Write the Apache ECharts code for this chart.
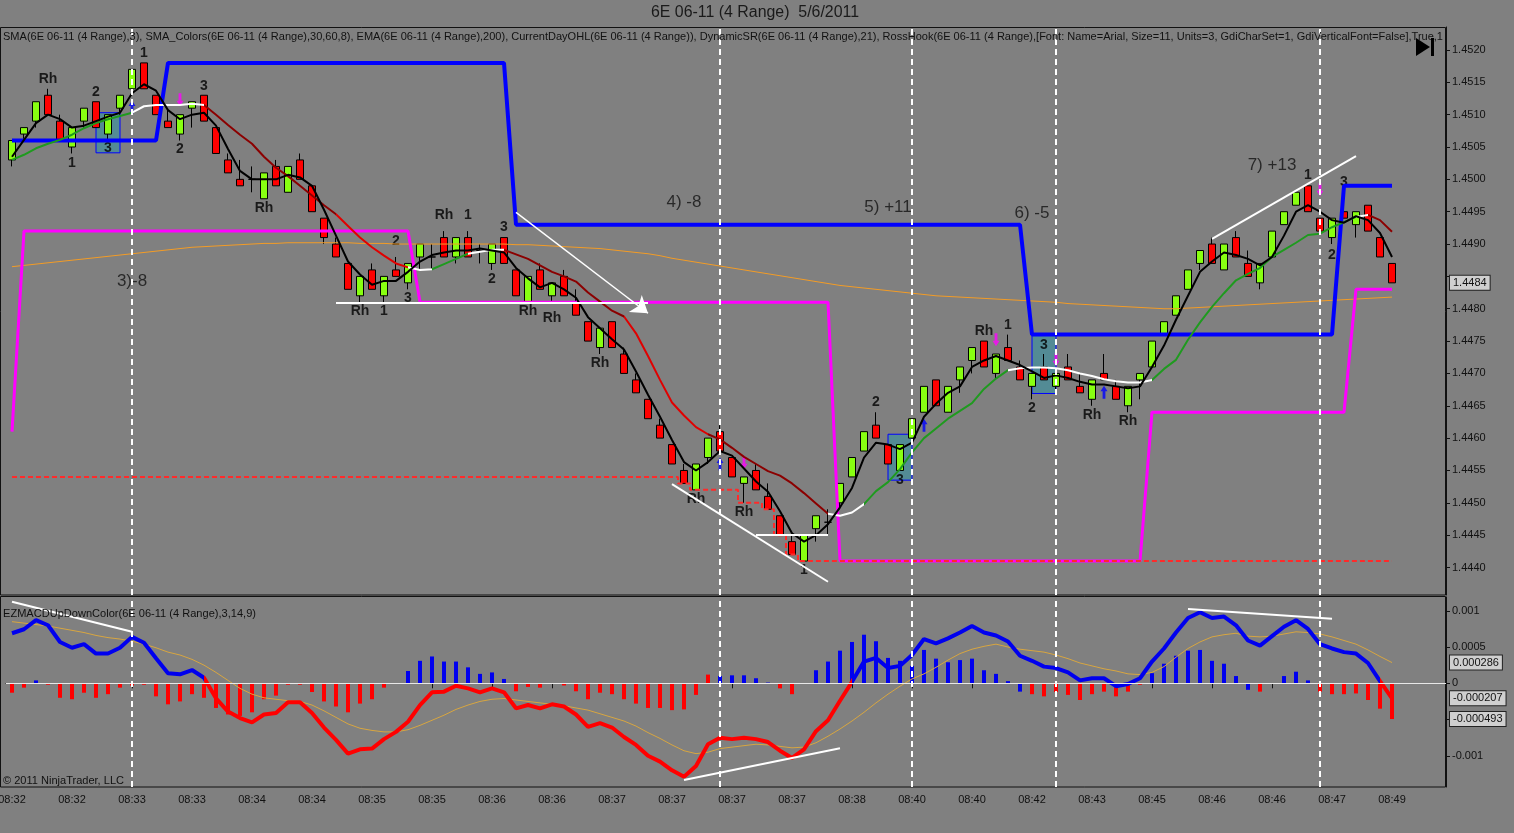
<!DOCTYPE html>
<html><head><meta charset="utf-8">
<script src="https://cdn.jsdelivr.net/npm/echarts@6/dist/echarts.min.js"></script>
<style>html,body{margin:0;padding:0;background:#808080;}#c{width:1514px;height:833px;}</style>
</head><body><div id="c"></div>
<script>
// ---------- DATA ----------
const tickLabels = ['08:32','08:32','08:33','08:33','08:34','08:34','08:35','08:35','08:36','08:36','08:37','08:37','08:37','08:37','08:38','08:40','08:40','08:42','08:43','08:45','08:46','08:46','08:47','08:49'];

const opens = [
1.4503,1.4507,1.4509,1.4513,1.4509,1.4505,1.4509,1.4512,1.4507,1.4511,
1.4514,1.4518,1.4513,1.4509,1.4507,1.4511,1.4513,1.4508,1.4503,1.4500,
1.4500,1.4497,1.4502,1.4498,1.4503,1.4499,1.4494,1.4490,1.4487,1.4482,
1.4486,1.4482,1.4486,1.4484,1.4488,1.4488,1.4491,1.4488,1.4491,1.4489,
1.4487,1.4491,1.4486,1.4481,1.4486,1.4482,1.4485,1.4481,1.4478,1.4474,
1.4478,1.4473,1.4469,1.4466,1.4462,1.4459,1.4455,1.4452,1.4457,1.4461,
1.4457,1.4453,1.4455,1.4451,1.4448,1.4444,1.4441,1.4446,1.4447,1.4450,
1.4454,1.4458,1.4462,1.4459,1.4455,1.4460,1.4464,1.4469,1.4464,1.4469,
1.4472,1.4475,1.4470,1.4474,1.4471,1.4468,1.4471,1.4468,1.4471,1.4468,
1.4466,1.4470,1.4468,1.4465,1.4469,1.4471,1.4476,1.4479,1.4483,1.4487,
1.4490,1.4486,1.4491,1.4487,1.4484,1.4488,1.4493,1.4496,1.4499,1.4494,
1.4491,1.4495,1.4493,1.4496,1.4491,1.4487];
const closes = [
1.4506,1.4508,1.4512,1.4510,1.4506,1.4508,1.4511,1.4508,1.4510,1.4513,
1.4517,1.4514,1.4510,1.4508,1.4510,1.4512,1.4509,1.4504,1.4501,1.4499,
1.4500,1.4501,1.4499,1.4502,1.4500,1.4495,1.4491,1.4488,1.4483,1.4485,
1.4483,1.4485,1.4485,1.4487,1.4490,1.4488,1.4488,1.4491,1.4488,1.4489,
1.4490,1.4487,1.4482,1.4485,1.4483,1.4484,1.4482,1.4479,1.4475,1.4477,
1.4474,1.4470,1.4467,1.4463,1.4460,1.4456,1.4453,1.4456,1.4460,1.4458,
1.4454,1.4454,1.4452,1.4449,1.4445,1.4442,1.4445,1.4448,1.4447,1.4453,
1.4457,1.4461,1.4460,1.4456,1.4459,1.4463,1.4468,1.4465,1.4468,1.4471,
1.4474,1.4471,1.4473,1.4472,1.4469,1.4470,1.4469,1.4470,1.4469,1.4467,
1.4469,1.4469,1.4466,1.4468,1.4470,1.4475,1.4478,1.4482,1.4486,1.4489,
1.4487,1.4490,1.4488,1.4485,1.4487,1.4492,1.4495,1.4498,1.4495,1.4492,
1.4494,1.4494,1.4495,1.4492,1.4488,1.4484];
const lows = [
1.4502,1.4506,1.4508,1.4510,1.4506,1.4504,1.4508,1.4508,1.4506,1.4510,
1.4513,1.4514,1.4510,1.4508,1.4506,1.4508,1.4509,1.4504,1.4501,1.4499,
1.4498,1.4497,1.4499,1.4498,1.4500,1.4495,1.4490,1.4488,1.4483,1.4481,
1.4483,1.4481,1.4485,1.4483,1.4486,1.4486,1.4488,1.4487,1.4488,1.4487,
1.4486,1.4487,1.4482,1.4481,1.4483,1.4481,1.4482,1.4479,1.4475,1.4473,
1.4474,1.4470,1.4467,1.4463,1.4460,1.4456,1.4453,1.4452,1.4456,1.4458,
1.4454,1.4450,1.4452,1.4449,1.4445,1.4442,1.4441,1.4444,1.4445,1.4449,
1.4454,1.4458,1.4460,1.4456,1.4455,1.4460,1.4464,1.4465,1.4464,1.4467,
1.4470,1.4471,1.4469,1.4472,1.4469,1.4466,1.4469,1.4467,1.4469,1.4467,
1.4465,1.4469,1.4466,1.4464,1.4466,1.4471,1.4476,1.4479,1.4483,1.4486,
1.4487,1.4486,1.4488,1.4485,1.4483,1.4488,1.4493,1.4496,1.4495,1.4492,
1.4490,1.4494,1.4491,1.4492,1.4488,1.4484];
const highs = [
1.4506,1.4508,1.4512,1.4514,1.4510,1.4508,1.4511,1.4512,1.4510,1.4513,
1.4517,1.4518,1.4513,1.4511,1.4510,1.4512,1.4513,1.4508,1.4504,1.4503,
1.4502,1.4501,1.4503,1.4502,1.4504,1.4499,1.4494,1.4491,1.4487,1.4485,
1.4487,1.4485,1.4488,1.4487,1.4490,1.4490,1.4492,1.4491,1.4492,1.4490,
1.4490,1.4491,1.4486,1.4485,1.4487,1.4484,1.4486,1.4483,1.4478,1.4477,
1.4478,1.4474,1.4470,1.4466,1.4463,1.4459,1.4456,1.4456,1.4460,1.4462,
1.4457,1.4454,1.4456,1.4453,1.4448,1.4445,1.4445,1.4448,1.4449,1.4453,
1.4457,1.4461,1.4464,1.4459,1.4459,1.4463,1.4468,1.4469,1.4468,1.4471,
1.4474,1.4475,1.4473,1.4476,1.4472,1.4470,1.4473,1.4470,1.4473,1.4470,
1.4469,1.4473,1.4469,1.4468,1.4470,1.4475,1.4478,1.4482,1.4486,1.4489,
1.4491,1.4490,1.4492,1.4489,1.4487,1.4492,1.4495,1.4498,1.4499,1.4494,
1.4494,1.4495,1.4495,1.4496,1.4491,1.4487];

const sma3 = [
1.45035,1.45061,1.45087,1.45100,1.45093,1.45080,1.45083,1.45090,1.45097,1.45103,
1.45133,1.45147,1.45137,1.45107,1.45093,1.45100,1.45103,1.45083,1.45047,1.45013,
1.45000,1.45000,1.45000,1.45007,1.45003,1.44990,1.44953,1.44913,1.44873,1.44853,
1.44837,1.44843,1.44843,1.44857,1.44873,1.44883,1.44887,1.44890,1.44890,1.44893,
1.44890,1.44887,1.44863,1.44847,1.44833,1.44840,1.44830,1.44817,1.44787,1.44770,
1.44753,1.44737,1.44703,1.44667,1.44633,1.44597,1.44563,1.44550,1.44563,1.44580,
1.44573,1.44553,1.44533,1.44517,1.44487,1.44453,1.44440,1.44450,1.44467,1.44493,
1.44523,1.44570,1.44593,1.44590,1.44583,1.44593,1.44633,1.44653,1.44670,1.44680,
1.44710,1.44720,1.44727,1.44720,1.44713,1.44703,1.44693,1.44697,1.44693,1.44687,
1.44683,1.44683,1.44680,1.44677,1.44680,1.44710,1.44743,1.44783,1.44820,1.44857,
1.44873,1.44887,1.44883,1.44877,1.44867,1.44880,1.44913,1.44950,1.44960,1.44950,
1.44937,1.44933,1.44943,1.44937,1.44917,1.44880];

const smaColors = [
1.45030,1.45038,1.45048,1.45055,1.45061,1.45069,1.45079,1.45087,1.45093,1.45098,
1.45103,1.45113,1.45115,1.45115,1.45115,1.45117,1.45115,1.45100,1.45084,1.45069,
1.45055,1.45035,1.45018,1.45005,1.44990,1.44975,1.44960,1.44946,1.44928,1.44910,
1.44895,1.44882,1.44870,1.44864,1.44860,1.44861,1.44869,1.44877,1.44885,1.44888,
1.44891,1.44891,1.44884,1.44877,1.44867,1.44857,1.44850,1.44842,1.44825,1.44811,
1.44797,1.44788,1.44762,1.44727,1.44690,1.44655,1.44635,1.44617,1.44606,1.44598,
1.44585,1.44571,1.44560,1.44549,1.44542,1.44530,1.44515,1.44499,1.44483,1.44480,
1.44485,1.44498,1.44518,1.44532,1.44552,1.44578,1.44600,1.44615,1.44630,1.44642,
1.44654,1.44676,1.44692,1.44705,1.44708,1.44709,1.44709,1.44708,1.44705,1.44700,
1.44696,1.44691,1.44688,1.44686,1.44686,1.44690,1.44707,1.44721,1.44752,1.44779,
1.44803,1.44824,1.44844,1.44854,1.44863,1.44880,1.44891,1.44902,1.44914,1.44916,
1.44926,1.44934,1.44942,1.44945,1.44937,1.44919];

const ema200 = [
1.44865,1.44867,1.44869,1.44871,1.44873,1.44875,1.44877,1.44879,1.44881,1.44883,
1.44885,1.44887,1.44889,1.44891,1.44893,1.44895,1.44896,1.44897,1.44898,1.44899,
1.44900,1.44901,1.44901,1.44902,1.44902,1.44902,1.44902,1.44902,1.44902,1.44901,
1.44901,1.44901,1.44900,1.44900,1.44900,1.44900,1.44900,1.44900,1.44900,1.44900,
1.44900,1.44900,1.44899,1.44899,1.44898,1.44897,1.44896,1.44895,1.44894,1.44893,
1.44891,1.44889,1.44887,1.44885,1.44882,1.44878,1.44875,1.44872,1.44869,1.44866,
1.44863,1.44860,1.44857,1.44854,1.44851,1.44848,1.44845,1.44842,1.44839,1.44836,
1.44834,1.44832,1.44830,1.44828,1.44826,1.44824,1.44822,1.44820,1.44819,1.44818,
1.44817,1.44816,1.44815,1.44814,1.44813,1.44812,1.44811,1.44810,1.44808,1.44807,
1.44806,1.44805,1.44804,1.44803,1.44802,1.44801,1.44800,1.44800,1.44801,1.44802,
1.44803,1.44804,1.44805,1.44806,1.44807,1.44808,1.44809,1.44810,1.44811,1.44812,
1.44813,1.44814,1.44815,1.44816,1.44817,1.44818];

const dayLow = [
1.4454,1.4454,1.4454,1.4454,1.4454,1.4454,1.4454,1.4454,1.4454,1.4454,
1.4454,1.4454,1.4454,1.4454,1.4454,1.4454,1.4454,1.4454,1.4454,1.4454,
1.4454,1.4454,1.4454,1.4454,1.4454,1.4454,1.4454,1.4454,1.4454,1.4454,
1.4454,1.4454,1.4454,1.4454,1.4454,1.4454,1.4454,1.4454,1.4454,1.4454,
1.4454,1.4454,1.4454,1.4454,1.4454,1.4454,1.4454,1.4454,1.4454,1.4454,
1.4454,1.4454,1.4454,1.4454,1.4454,1.4454,1.4453,1.4452,1.4452,1.4452,
1.4452,1.4450,1.4450,1.4449,1.4445,1.4442,1.4441,1.4441,1.4441,1.4441,
1.4441,1.4441,1.4441,1.4441,1.4441,1.4441,1.4441,1.4441,1.4441,1.4441,
1.4441,1.4441,1.4441,1.4441,1.4441,1.4441,1.4441,1.4441,1.4441,1.4441,
1.4441,1.4441,1.4441,1.4441,1.4441,1.4441,1.4441,1.4441,1.4441,1.4441,
1.4441,1.4441,1.4441,1.4441,1.4441,1.4441,1.4441,1.4441,1.4441,1.4441,
1.4441,1.4441,1.4441,1.4441,1.4441,1.4441];

const support = [
1.4461,1.4492,1.4492,1.4492,1.4492,1.4492,1.4492,1.4492,1.4492,1.4492,
1.4492,1.4492,1.4492,1.4492,1.4492,1.4492,1.4492,1.4492,1.4492,1.4492,
1.4492,1.4492,1.4492,1.4492,1.4492,1.4492,1.4492,1.4492,1.4492,1.4492,
1.4492,1.4492,1.4492,1.4492,1.4481,1.4481,1.4481,1.4481,1.4481,1.4481,
1.4481,1.4481,1.4481,1.4481,1.4481,1.4481,1.4481,1.4481,1.4481,1.4481,
1.4481,1.4481,1.4481,1.4481,1.4481,1.4481,1.4481,1.4481,1.4481,1.4481,
1.4481,1.4481,1.4481,1.4481,1.4481,1.4481,1.4481,1.4481,1.4481,1.4441,
1.4441,1.4441,1.4441,1.4441,1.4441,1.4441,1.4441,1.4441,1.4441,1.4441,
1.4441,1.4441,1.4441,1.4441,1.4441,1.4441,1.4441,1.4441,1.4441,1.4441,
1.4441,1.4441,1.4441,1.4441,1.4441,1.4464,1.4464,1.4464,1.4464,1.4464,
1.4464,1.4464,1.4464,1.4464,1.4464,1.4464,1.4464,1.4464,1.4464,1.4464,
1.4464,1.4464,1.4483,1.4483,1.4483,1.4483];

const resistance = [
1.4506,1.4506,1.4506,1.4506,1.4506,1.4506,1.4506,1.4506,1.4506,1.4506,
1.4506,1.4506,1.4506,1.4518,1.4518,1.4518,1.4518,1.4518,1.4518,1.4518,
1.4518,1.4518,1.4518,1.4518,1.4518,1.4518,1.4518,1.4518,1.4518,1.4518,
1.4518,1.4518,1.4518,1.4518,1.4518,1.4518,1.4518,1.4518,1.4518,1.4518,
1.4518,1.4518,1.4493,1.4493,1.4493,1.4493,1.4493,1.4493,1.4493,1.4493,
1.4493,1.4493,1.4493,1.4493,1.4493,1.4493,1.4493,1.4493,1.4493,1.4493,
1.4493,1.4493,1.4493,1.4493,1.4493,1.4493,1.4493,1.4493,1.4493,1.4493,
1.4493,1.4493,1.4493,1.4493,1.4493,1.4493,1.4493,1.4493,1.4493,1.4493,
1.4493,1.4493,1.4493,1.4493,1.4493,1.4476,1.4476,1.4476,1.4476,1.4476,
1.4476,1.4476,1.4476,1.4476,1.4476,1.4476,1.4476,1.4476,1.4476,1.4476,
1.4476,1.4476,1.4476,1.4476,1.4476,1.4476,1.4476,1.4476,1.4476,1.4476,
1.4476,1.4499,1.4499,1.4499,1.4499,1.4499];

const macd = [
0.00069,0.000745,0.00087,0.00080,0.00057,0.00049,0.00054,0.00041,0.00041,0.00049,
0.00064,0.00056,0.000345,0.000138,0.000124,0.000183,0.000077,-0.000207,-0.00039,-0.00048,
-0.00054,-0.00043,-0.00041,-0.00026,-0.00026,-0.00041,-0.00061,-0.00078,-0.00097,-0.00091,
-0.00090,-0.00077,-0.00067,-0.00053,-0.00030,-0.000124,-0.000115,-0.000033,-0.00007,-0.000124,
-0.00007,-0.000124,-0.000345,-0.00030,-0.000345,-0.00029,-0.00032,-0.00043,-0.00060,-0.00055,
-0.00061,-0.00074,-0.00085,-0.00100,-0.00108,-0.00120,-0.00129,-0.00114,-0.00084,-0.00075,
-0.00077,-0.00075,-0.00077,-0.00081,-0.00093,-0.00103,-0.00091,-0.00066,-0.00051,-0.00024,
0.00002,0.00030,0.00035,0.00021,0.00024,0.00039,0.00061,0.00055,0.00062,0.00070,
0.00079,0.00070,0.00066,0.000576,0.00038,0.00031,0.00023,0.00021,0.00015,0.00004,
0.00007,0.00007,-0.00004,-0.00001,0.00007,0.00030,0.00048,0.00070,0.00090,0.00098,
0.00090,0.00092,0.00080,0.00059,0.00052,0.00065,0.00078,0.00087,0.00075,0.00054,
0.00048,0.00043,0.00041,0.00028,0.00003,-0.000207];

const signal = [
0.00085,0.00083,0.00081,0.00079,0.00076,0.00073,0.00070,0.00066,0.00063,0.00061,
0.00058,0.00054,0.00049,0.00043,0.00039,0.00033,0.00025,0.00015,0.00004,-0.00007,
-0.00015,-0.00020,-0.00022,-0.00024,-0.00025,-0.00030,-0.00038,-0.00047,-0.00056,-0.00062,
-0.00065,-0.00067,-0.00067,-0.00064,-0.00058,-0.00051,-0.00044,-0.00036,-0.00030,-0.00025,
-0.00022,-0.00021,-0.00023,-0.00025,-0.00027,-0.00029,-0.00031,-0.00034,-0.00037,-0.00042,
-0.00047,-0.00052,-0.00059,-0.00068,-0.00076,-0.00085,-0.00093,-0.00097,-0.00095,-0.00090,
-0.00088,-0.00086,-0.00084,-0.00085,-0.00087,-0.00089,-0.00088,-0.00082,-0.00073,-0.00063,
-0.00052,-0.00040,-0.00027,-0.00015,-0.00004,0.00006,0.00013,0.00022,0.00032,0.00041,
0.00047,0.00051,0.00054,0.00050,0.00047,0.00045,0.00043,0.00039,0.00034,0.00028,
0.00024,0.00020,0.00017,0.00013,0.00012,0.00015,0.00023,0.00036,0.00048,0.00057,
0.00064,0.00067,0.00069,0.00065,0.00064,0.00065,0.00068,0.00071,0.00070,0.00068,
0.00064,0.00059,0.00054,0.00046,0.00037,0.000286];

const histBlue = [
null,null,0.00004,null,null,null,null,null,null,null,
null,null,null,null,null,null,null,null,null,null,
null,null,null,null,null,null,null,null,null,null,
null,null,null,0.00017,0.00031,0.00037,0.00030,0.00030,0.00022,0.00013,
0.00015,0.00006,null,null,null,null,null,null,null,null,
null,null,null,null,null,null,null,null,null,0.00010,
0.00011,0.00011,0.00007,0.00001,null,null,null,0.00018,0.00030,0.00045,
0.00057,0.00067,0.00058,0.00035,0.00031,0.00024,0.00046,0.00034,0.00029,0.00032,
0.00034,0.00018,0.00013,0.00003,-0.000115,null,null,null,null,null,
null,null,null,null,null,0.00014,0.00027,0.00038,0.00045,0.00046,
0.00031,0.00027,0.00010,-0.00009,null,null,0.00010,0.00016,0.00004,null,
null,null,null,null,null,null];
const histRed = [
-0.00013,-0.00006,null,-0.00002,-0.00020,-0.00022,-0.00013,-0.00020,-0.00015,-0.00006,
-0.00003,-0.00002,-0.00018,-0.00029,-0.00025,-0.00015,-0.00020,-0.00034,-0.00043,-0.00045,
-0.00040,-0.00022,-0.00017,-0.00002,-0.00002,-0.00012,-0.00025,-0.00032,-0.00040,-0.00028,
-0.00022,-0.00006,-0.00001,null,null,null,null,null,null,null,
null,null,-0.00011,-0.00005,-0.00006,-0.00001,-0.00003,-0.00011,-0.00022,-0.00013,
-0.00015,-0.00022,-0.00028,-0.00034,-0.00034,-0.00037,-0.00036,-0.00016,0.00012,null,
null,null,null,null,-0.00007,-0.00015,-0.00001,null,null,null,
null,null,null,null,null,null,null,null,null,null,
null,null,null,null,null,-0.00015,-0.00018,-0.00012,-0.00016,-0.00023,
-0.00015,-0.000115,-0.00018,-0.000115,-0.00002,null,null,null,null,null,
null,null,null,null,-0.000115,null,null,null,null,-0.000115,
-0.00015,-0.00015,-0.00014,-0.00023,-0.00035,-0.000493];

// annotations (bar index, value)
const hookLabels = [
[3,1.45155,'Rh'],[5,1.45025,'1'],[7,1.45135,'2'],[8,1.45049,'3'],[11,1.45195,'1'],[14,1.45047,'2'],[16,1.45144,'3'],
[21,1.44956,'Rh'],[29,1.44796,'Rh'],[31,1.44796,'1'],[32,1.44905,'2'],[33,1.44817,'3'],[36,1.44945,'Rh'],[38,1.44945,'1'],
[40,1.44846,'2'],[41,1.44926,'3'],[43,1.44796,'Rh'],[45,1.44786,'Rh'],[49,1.44716,'Rh'],[57,1.44506,'Rh'],[61,1.44486,'Rh'],
[66,1.44396,'1'],[72,1.44655,'2'],[74,1.44535,'3'],[81,1.44765,'Rh'],[83,1.44775,'1'],[85,1.44647,'2'],[86,1.44744,'3'],
[90,1.44636,'Rh'],[93,1.44626,'Rh'],[108,1.45007,'1'],[110,1.44883,'2'],[111,1.44996,'3']];
const tradeLabels = [[10,1.44843,'3)-8'],[56,1.44964,'4) -8'],[73,1.44957,'5) +11'],[85,1.44948,'6) -5'],[105,1.45021,'7) +13']];
const upArrows = [[10,1.45112],[59,1.44560],[76,1.44620],[91,1.44671]];
const downArrows = [[14,1.45123],[61,1.44562],[82,1.44752],[87,1.44721],[109,1.44984]];
const trendLines = [
[[27,1.4481],[53,1.4481]],
[[55,1.44529],[68,1.44378]],
[[62,1.4445],[68,1.4445]],
[[100,1.44908],[112,1.45036]]];
const arrowLine = [[42,1.44949],[53,1.44793]];
const macdTrendLines = [
[[0,0.001125],[10,0.000712]],
[[56,-0.001334],[69,-0.000897]],
[[98,0.001023],[110,0.000889]]];
const boxes = [
[[7,1.45103],[9,1.45041]],
[[73,1.44606],[75,1.44535]],
[[85,1.44759],[87,1.44669]]];
const sessionLines = [10,59,75,87,109];
const lastPrice = 1.4484, lastMacd = -0.000207, lastSignal = 0.000286, lastHist = -0.000493;

// ---------- CHART ----------
const FONT = 'Liberation Sans';
const categories = Array.from({length:120}, (_, i) => String(i));
const candleData = opens.map((o, i) => [o, closes[i], lows[i], highs[i]]);
const showTick = i => i % 5 === 0 && i <= 115;
const ARROW = 'path://M5,0 L10,6 L7,6 L7,14 L3,14 L3,6 L0,6 Z';

function fitScale(text, font, target) {
  const ctx = document.createElement('canvas').getContext('2d');
  ctx.font = font;
  return target / ctx.measureText(text).width;
}
const headerText = 'SMA(6E 06-11 (4 Range),3), SMA_Colors(6E 06-11 (4 Range),30,60,8), EMA(6E 06-11 (4 Range),200), CurrentDayOHL(6E 06-11 (4 Range)), DynamicSR(6E 06-11 (4 Range),21), RossHook(6E 06-11 (4 Range),[Font: Name=Arial, Size=11, Units=3, GdiCharSet=1, GdiVerticalFont=False],True,1';
const titleText = '6E 06-11 (4 Range)  5/6/2011';
const macdText = 'EZMACDUpDownColor(6E 06-11 (4 Range),3,14,9)';
const copyText = '\u00A9 2011 NinjaTrader, LLC';
const f11 = '11px "' + FONT + '"';
const f16 = '16px "' + FONT + '"';

function priceLabel(v) {
  const t = v * 2000, r = Math.round(t);
  if (Math.abs(t - r) > 1e-4 || r === 2897) return '';
  return (r / 2000).toFixed(4);
}
function macdLabel(v) {
  const t = v * 2000, r = Math.round(t);
  if (Math.abs(t - r) > 1e-4) return '';
  const m = {'2':'0.001','1':'0.0005','0':'0','-2':'-0.001'};
  return m[String(r)] || '';
}
const boxLabel = (txt) => ({
  show: true, position: 'end', formatter: txt, color: '#111', fontSize: 11, fontFamily: FONT,
  backgroundColor: '#cfcfcf', borderColor: '#222', borderWidth: 1, padding: [2, 3, 1, 3], distance: 4
});
const hidden = {color: 'rgba(0,0,0,0)', width: 0};
const vdash = {color: '#ffffff', width: 2, type: [6, 4]};

const option = {
  animation: false,
  backgroundColor: '#808080',
  textStyle: {fontFamily: FONT},
  grid: [
    {left: 6, right: 68, top: 27, height: 568, containLabel: false, outerBoundsMode: 'none'},
    {left: 6, right: 68, top: 597, height: 190, containLabel: false, outerBoundsMode: 'none'}
  ],
  xAxis: [
    {type: 'category', gridIndex: 0, data: categories, boundaryGap: true,
     axisLine: {show: false}, axisTick: {show: false}, axisLabel: {show: false}, splitLine: {show: false}},
    {type: 'category', gridIndex: 1, data: categories, boundaryGap: true,
     axisLine: {show: true, lineStyle: {color: '#111'}},
     axisTick: {show: true, alignWithLabel: true, interval: (i) => showTick(i), length: 5, lineStyle: {color: '#111'}},
     axisLabel: {interval: (i) => showTick(i), formatter: (v) => { const n = Number(v); return showTick(n) ? tickLabels[n / 5] : ''; },
                 color: '#111', fontSize: 11, margin: 7},
     splitLine: {show: false}}
  ],
  yAxis: [
    {type: 'value', gridIndex: 0, position: 'right', min: 1.443575, max: 1.452355, splitNumber: 17, scale: true,
     axisLine: {show: true, lineStyle: {color: '#111'}},
     axisTick: {show: true, length: 4, lineStyle: {color: '#111'}},
     axisLabel: {formatter: priceLabel, color: '#111', fontSize: 11, margin: 6, showMinLabel: false, showMaxLabel: false},
     splitLine: {show: false}},
    {type: 'value', gridIndex: 1, position: 'right', min: -0.00143, max: 0.00119, splitNumber: 5,
     axisLine: {show: true, lineStyle: {color: '#111'}},
     axisTick: {show: true, length: 4, lineStyle: {color: '#111'}},
     axisLabel: {formatter: macdLabel, color: '#111', fontSize: 11, margin: 6, showMinLabel: false, showMaxLabel: false},
     splitLine: {show: false}}
  ],
  visualMap: [
    {type: 'piecewise', show: false, seriesIndex: 5, dimension: 0, pieces: [
      {lt: 10, color: '#1f9a1f'}, {gte: 10, lt: 16, color: '#ffffff'}, {gte: 16, lt: 27, color: '#8b0000'},
      {gte: 27, lt: 33, color: '#e00000'}, {gte: 33, lt: 35, color: '#ffffff'}, {gte: 35, lt: 38, color: '#1f9a1f'},
      {gte: 38, lt: 41, color: '#ffffff'}, {gte: 41, lt: 51, color: '#8b0000'}, {gte: 51, lt: 58, color: '#e00000'},
      {gte: 58, lt: 68, color: '#8b0000'}, {gte: 68, lt: 71, color: '#ffffff'}, {gte: 71, lt: 83, color: '#1f9a1f'},
      {gte: 83, lt: 95, color: '#ffffff'}, {gte: 95, lt: 112, color: '#1f9a1f'}, {gte: 112, lt: 113, color: '#ffffff'},
      {gte: 113, color: '#8b0000'}]},
    {type: 'piecewise', show: false, seriesIndex: 14, dimension: 0, pieces: [
      {lt: 16, color: '#0000ee'}, {gte: 16, lt: 70, color: '#ff0000'}, {gte: 70, lt: 114, color: '#0000ee'}, {gte: 114, color: '#ff0000'}]}
  ],
  series: [
    {type: 'candlestick', name: 'price', xAxisIndex: 0, yAxisIndex: 0, data: candleData, barWidth: 7,
     itemStyle: {color: '#88ff11', color0: '#ff0000', borderColor: '#000', borderColor0: '#000', borderWidth: 1},
     markLine: {silent: true, precision: 6, symbol: ['none', 'none'], label: {show: false}, lineStyle: vdash,
                data: sessionLines.map(b => ({xAxis: b}))},
     markArea: {silent: true, itemStyle: {color: 'rgba(0,160,190,0.35)', borderColor: '#0000ff', borderWidth: 1},
                data: boxes.map(([a, b]) => [{coord: a}, {coord: b}])}},
    {type: 'line', name: 'EMA', xAxisIndex: 0, yAxisIndex: 0, data: ema200, showSymbol: false, symbol: 'none',
     lineStyle: {color: '#f39c26', width: 1},
     markLine: {silent: true, precision: 6, symbol: ['none', 'arrow'], symbolSize: 16, label: {show: false},
                lineStyle: {color: '#ffffff', width: 1.5, type: 'solid'},
                data: [[{coord: arrowLine[0]}, {coord: arrowLine[1]}]]}},
    {type: 'line', name: 'support', xAxisIndex: 0, yAxisIndex: 0, data: support, showSymbol: false, symbol: 'none',
     lineStyle: {color: '#ff00ff', width: 3}},
    {type: 'line', name: 'resistance', xAxisIndex: 0, yAxisIndex: 0, data: resistance, showSymbol: false, symbol: 'none',
     lineStyle: {color: '#0000ff', width: 4},
     markLine: {silent: true, precision: 6, symbol: ['none', 'none'], lineStyle: hidden,
                data: [{yAxis: lastPrice, label: boxLabel(lastPrice.toFixed(4))}]}},
    {type: 'line', name: 'dayLow', xAxisIndex: 0, yAxisIndex: 0, data: dayLow, showSymbol: false, symbol: 'none', step: 'middle',
     lineStyle: {color: '#ff2a2a', width: 2, type: [5, 3]}},
    {type: 'line', name: 'smaColors', xAxisIndex: 0, yAxisIndex: 0, data: smaColors, showSymbol: false, symbol: 'none',
     lineStyle: {width: 2}},
    {type: 'line', name: 'sma3', xAxisIndex: 0, yAxisIndex: 0, data: sma3, showSymbol: false, symbol: 'none',
     lineStyle: {color: '#000', width: 2},
     markLine: {silent: true, precision: 6, symbol: ['none', 'none'], label: {show: false},
                lineStyle: {color: '#ffffff', width: 2, type: 'solid'},
                data: trendLines.map(([a, b]) => [{coord: a}, {coord: b}])}},
    {type: 'scatter', name: 'hooks', xAxisIndex: 0, yAxisIndex: 0, symbolSize: 1, silent: true,
     itemStyle: {color: 'rgba(0,0,0,0)'},
     data: hookLabels.map(d => ({value: [d[0], d[1]], name: d[2]})),
     label: {show: true, position: 'inside', formatter: '{b}', color: '#000', fontWeight: 'bold', fontSize: 14, fontFamily: FONT}},
    {type: 'scatter', name: 'trades', xAxisIndex: 0, yAxisIndex: 0, symbolSize: 1, silent: true,
     itemStyle: {color: 'rgba(0,0,0,0)'},
     data: tradeLabels.map(d => ({value: [d[0], d[1]], name: d[2]})),
     label: {show: true, position: 'inside', formatter: '{b}', color: '#111', fontSize: 17, fontFamily: FONT}},
    {type: 'scatter', name: 'upArrows', xAxisIndex: 0, yAxisIndex: 0, symbol: ARROW, symbolSize: [7, 13], silent: true,
     itemStyle: {color: '#0000ff'}, data: upArrows},
    {type: 'scatter', name: 'downArrows', xAxisIndex: 0, yAxisIndex: 0, symbol: ARROW, symbolSize: [7, 13], symbolRotate: 180, silent: true,
     itemStyle: {color: '#ff00ff'}, data: downArrows},
    {type: 'bar', name: 'histUp', xAxisIndex: 1, yAxisIndex: 1, data: histBlue, barWidth: 4, itemStyle: {color: '#0000ee'}},
    {type: 'bar', name: 'histDown', xAxisIndex: 1, yAxisIndex: 1, data: histRed, barWidth: 4, barGap: '-100%', itemStyle: {color: '#ff0000'},
     markLine: {silent: true, precision: 6, symbol: ['none', 'none'],
                data: [{yAxis: lastHist, lineStyle: hidden, label: boxLabel('-0.000493')}]}},
    {type: 'line', name: 'signal', xAxisIndex: 1, yAxisIndex: 1, data: signal, showSymbol: false, symbol: 'none',
     lineStyle: {color: '#d8a640', width: 1},
     markLine: {silent: true, precision: 6, symbol: ['none', 'none'],
                data: [
                  {yAxis: lastSignal, lineStyle: hidden, label: boxLabel('0.000286')},
                  {yAxis: 0, lineStyle: {color: '#e8e8e8', width: 1, type: 'solid'}, label: {show: false}}
                ].concat(sessionLines.map(b => ({xAxis: b, lineStyle: vdash, label: {show: false}})))}},
    {type: 'line', name: 'macd', xAxisIndex: 1, yAxisIndex: 1, data: macd, showSymbol: false, symbol: 'none',
     lineStyle: {width: 4},
     markLine: {silent: true, precision: 6, symbol: ['none', 'none'],
                data: macdTrendLines.map(([a, b]) => [{coord: a, lineStyle: {color: '#ffffff', width: 2, type: 'solid'}, label: {show: false}}, {coord: b}])
                  .concat([{yAxis: lastMacd, lineStyle: hidden, label: boxLabel('-0.000207')}])}}
  ],
  graphic: [
    {type: 'rect', shape: {x: 0.5, y: 27.5, width: 1445, height: 567.5}, style: {fill: 'rgba(0,0,0,0)', stroke: '#111', lineWidth: 1}, silent: true},
    {type: 'rect', shape: {x: 0.5, y: 596.5, width: 1445, height: 190.5}, style: {fill: 'rgba(0,0,0,0)', stroke: '#111', lineWidth: 1}, silent: true},
    {type: 'text', x: 755, y: 5, scaleX: fitScale(titleText, f16, 208), z: 100,
     style: {text: titleText, font: f16, fill: '#1a1a1a', align: 'center', verticalAlign: 'top'}},
    {type: 'text', x: 3, y: 31, scaleX: fitScale(headerText, f11, 1440), z: 100,
     style: {text: headerText, font: f11, fill: '#111', align: 'left', verticalAlign: 'top'}},
    {type: 'text', x: 3, y: 608, scaleX: fitScale(macdText, f11, 253), z: 100,
     style: {text: macdText, font: f11, fill: '#111', align: 'left', verticalAlign: 'top'}},
    {type: 'text', x: 3, y: 775, scaleX: fitScale(copyText, f11, 121), z: 100,
     style: {text: copyText, font: f11, fill: '#111', align: 'left', verticalAlign: 'top'}},
    {type: 'polygon', shape: {points: [[1416, 38], [1430, 47], [1416, 56]]}, style: {fill: '#000'}, z: 100},
    {type: 'rect', shape: {x: 1431, y: 38, width: 3, height: 18}, style: {fill: '#000'}, z: 100}
  ]
};
const chart = echarts.init(document.getElementById('c'));
chart.setOption(option);
</script></body></html>
